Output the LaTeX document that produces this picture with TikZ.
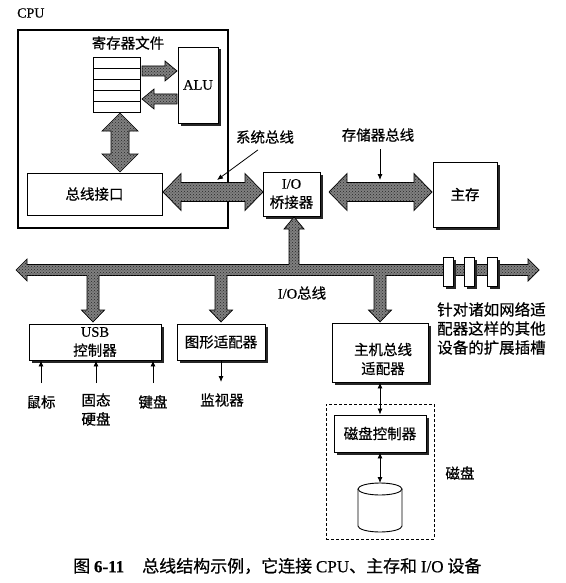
\documentclass[tikz,border=0pt]{standalone}
\usepackage{fontspec}
\setmainfont{Noto Sans CJK SC}[FakeBold=0.5]
\newfontfamily\lat{Liberation Serif}[FakeBold=0.5]
\usetikzlibrary{arrows.meta,shadows,patterns,calc}

\def\bh{5.5}
% double fat arrow: x y angle length shaft-half head-half head-length
\newcommand{\fattwo}[7]{%
  \begin{scope}[shift={(#1,#2)},rotate=#3]
    \filldraw[fatline,fatfill] (0,0)--(#7,-#6)--(#7,-#5)--(#4-#7,-#5)--(#4-#7,-#6)--(#4,0)--(#4-#7,#6)--(#4-#7,#5)--(#7,#5)--(#7,#6)--cycle;
  \end{scope}}
% single closed fat arrow
\newcommand{\fatone}[7]{%
  \begin{scope}[shift={(#1,#2)},rotate=#3]
    \filldraw[fatline,fatfill] (0,-#5)--(#4-#7,-#5)--(#4-#7,-#6)--(#4,0)--(#4-#7,#6)--(#4-#7,#5)--(0,#5)--cycle;
  \end{scope}}
% single fat arrow growing out of the bus (open base)
\newcommand{\fatstem}[7]{%
  \begin{scope}[shift={(#1,#2)},rotate=#3]
    \fill[fatfill] (0,-#5)--(#4-#7,-#5)--(#4-#7,-#6)--(#4,0)--(#4-#7,#6)--(#4-#7,#5)--(0,#5)--cycle;
    \draw[fatline] (\bh,-#5)--(#4-#7,-#5)--(#4-#7,-#6)--(#4,0)--(#4-#7,#6)--(#4-#7,#5)--(\bh,#5);
  \end{scope}}

\tikzset{
  fatfill/.style={fill=black!50, postaction={pattern=crosshatch dots, pattern color=black!85}},
  fatline/.style={draw=black, line width=0.7pt, line join=miter},
  box/.style={draw, line width=0.9pt, fill=white, inner sep=0pt, align=center},
  sbox/.style={box, drop shadow={shadow xshift=2.5pt, shadow yshift=-2.5pt, fill=black!85, opacity=1}},
  lbl/.style={inner sep=0pt, align=center},
  thin/.style={line width=0.8pt, -{Latex[length=6pt,width=5pt]}},
  thintwo/.style={line width=0.8pt, {Latex[length=6pt,width=5pt]}-{Latex[length=6pt,width=5pt]}},
}

\begin{document}
\begin{tikzpicture}[x=1pt,y=-1pt, every node/.style={font=\fontsize{14.5}{19}\selectfont}]
\useasboundingbox[fill=white] (0,0) rectangle (565,583);

% ---------- CPU ----------
\node[lbl, anchor=west, font=\fontsize{14}{16}\selectfont] (cpulbl) at (17,13) {\lat CPU};
\node[draw, line width=1.1pt, minimum width=210pt, minimum height=198pt, inner sep=0pt] (cpu) at (123,129) {};

\node[lbl] (regl) at (128,43) {寄存器文件};
\node[box, minimum width=47pt, minimum height=55pt] (reg) at (116.5,84.5) {};
\foreach \yy in {68,79,90,101} \draw[line width=0.6pt] (93,\yy) -- (140,\yy);
\node[sbox, minimum width=40pt, minimum height=76pt] (alu) at (198,85) {\lat ALU};

\fatone{142}{71}{0}{35}{5}{10}{12}
\fatone{177}{99}{180}{35}{5}{10}{12}
\fattwo{120}{113}{-90}{59}{9}{18}{18}

\node[box, minimum width=135pt, minimum height=42pt] (bif) at (94.5,194) {总线接口};

% ---------- system / memory bus ----------
\fattwo{163}{192}{0}{100}{9.5}{18.5}{18}
\node[lbl] (sysl) at (265,137) {系统总线};
\coordinate (sysp) at (217,180);
\draw[thin] ($(sysl.south)+(-7,6)$) -- (sysp);

\node[sbox, minimum width=57pt, minimum height=44pt] (bridge) at (291.5,194) {{\lat I/O}\\桥接器};

\fattwo{329}{192}{0}{103}{9.5}{18.5}{18}
\node[lbl] (meml) at (378,135) {存储器总线};
\coordinate (memp) at (380,180);
\draw[thin] (memp |- 0,149) -- (memp);

\node[sbox, minimum width=64pt, minimum height=65pt] (mem) at (465,194.5) {主存};

% ---------- I/O bus ----------
\fattwo{16}{270}{0}{523}{5.5}{11}{11}
\fatstem{294}{270}{90}{53}{5}{10}{12}
\fatstem{93}{270}{-90}{52}{6}{11.5}{12}
\fatstem{221}{270}{-90}{52}{6}{11.5}{12}
\fatstem{380}{270}{-90}{52}{6}{11.5}{12}

\node[sbox, minimum width=10pt, minimum height=29pt] (s1) at (448,271.5) {};
\node[sbox, minimum width=10pt, minimum height=29pt] (s2) at (469.5,271.5) {};
\node[sbox, minimum width=10pt, minimum height=29pt] (s3) at (492,271.5) {};

\node[lbl] (iol) at (302,293) {{\lat I/O}总线};
\node[lbl, anchor=north west, align=left, font=\fontsize{15.5}{19}\selectfont] (expl) at (437,302) {针对诸如网络适\\配器这样的其他\\设备的扩展插槽};

% ---------- devices ----------
\node[sbox, minimum width=132pt, minimum height=36pt] (usb) at (95,342) {{\lat USB}\\控制器};
\node[sbox, minimum width=88pt, minimum height=36pt] (gfx) at (221,342) {图形适配器};
\node[sbox, minimum width=96pt, minimum height=59pt] (hba) at (380,352.5) {};
\node[lbl] (hbal) at (383,359) {主机总线\\适配器};

\node[lbl] (mouse) at (41,402) {鼠标};
\node[lbl] (ssd) at (96,409.5) {固态\\硬盘};
\node[lbl] (kbd) at (153,402) {键盘};
\coordinate (m1) at (41,383);
\coordinate (m2) at (96,383);
\coordinate (m3) at (153,383);
\draw[thin] (m1) -- (usb.south -| m1);
\draw[thin] (m2) -- (usb.south -| m2);
\draw[thin] (m3) -- (usb.south -| m3);

\node[lbl] (mon) at (222,400) {监视器};
\coordinate (monp) at (221,382);
\draw[thin] (gfx.south) -- (monp);

% ---------- disk ----------
\node[draw, line width=0.7pt, dash pattern=on 3pt off 2pt, minimum width=108pt, minimum height=135pt, inner sep=0pt] (dbox) at (380,471.5) {};
\node[sbox, minimum width=92pt, minimum height=37pt] (dctl) at (380,433.5) {磁盘控制器};
\draw[thintwo] (hba.south) -- (dctl.north);
\coordinate (disktop) at (380,483);
\draw[thintwo] (dctl.south) -- (disktop);
\draw[line width=0.9pt, fill=white] (358,489) -- (358,526) arc[start angle=180, end angle=360, x radius=22pt, y radius=6pt] -- (402,489);
\draw[line width=0.9pt, fill=white] (380,489) ellipse [x radius=22pt, y radius=6pt];
\node[lbl] (diskl) at (460,473) {磁盘};

% ---------- caption ----------
\node[lbl, anchor=west, font=\fontsize{17}{19}\selectfont] (cap) at (73,566) {图 {\lat\bfseries 6-11}\hspace{18pt}总线结构示例，它连接 {\lat CPU}、主存和 {\lat I/O} 设备};
\end{tikzpicture}
\end{document}
